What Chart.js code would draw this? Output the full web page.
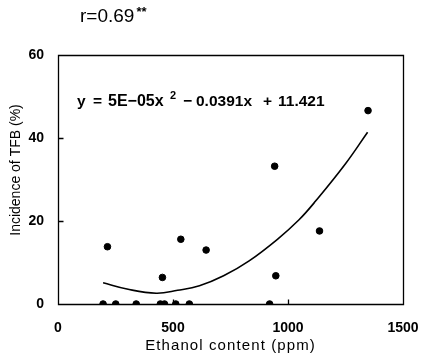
<!DOCTYPE html>
<html>
<head>
<meta charset="utf-8">
<script src="https://cdn.jsdelivr.net/npm/chart.js@4"></script>
<style>
  html, body { margin: 0; padding: 0; background: #fff; }
  #wrap { width: 422px; height: 358px; }
</style>
</head>
<body>
<div id="wrap"><canvas id="chart"></canvas></div>
<script>
// observed points: ethanol content (ppm) vs incidence of TFB (%)
const ethanol = [196, 251, 340, 445, 463, 512, 571, 920, 215, 454, 534, 644, 942, 947, 1137, 1348];
const incidence = [0, 0, 0, 0, 0, 0, 0, 0, 13.8, 6.4, 15.6, 13.0, 33.2, 6.8, 17.6, 46.6];

// trend curve
const trendX = [196, 300, 427, 520, 615, 720, 831, 954, 1048, 1120, 1250, 1346];
const trendY = [5.1, 3.6, 2.6, 3.3, 4.4, 6.8, 10.4, 15.6, 20.3, 24.8, 33.8, 41.4];

const xTicks = [0, 500, 1000, 1500];
const yTicks = [0, 20, 40, 60];

const font = 'Liberation Sans, Arial, sans-serif';

const framePlugin = {
  id: 'frame',
  afterDraw(chart) {
    const ctx = chart.ctx;
    const a = chart.chartArea;
    const xs = chart.scales.x, ys = chart.scales.y;
    const l = Math.round(a.left) + 0.5, r = Math.round(a.right) + 0.5;
    const t = Math.round(a.top) + 0.5, b = Math.round(a.bottom) + 0.5;
    ctx.save();
    ctx.globalAlpha = 1;
    ctx.setLineDash([]);
    ctx.strokeStyle = '#000000';
    ctx.lineWidth = 1.3;
    ctx.beginPath();
    ctx.moveTo(l, t);
    ctx.lineTo(r, t);
    ctx.lineTo(r, b);
    ctx.lineTo(l, b);
    ctx.closePath();
    // inner tick marks
    [500, 1000].forEach(v => {
      const px = Math.round(xs.getPixelForValue(v)) + 0.5;
      ctx.moveTo(px, b);
      ctx.lineTo(px, b - 5);
    });
    [20, 40].forEach(v => {
      const py = Math.round(ys.getPixelForValue(v)) + 0.5;
      ctx.moveTo(l, py);
      ctx.lineTo(l + 5, py);
    });
    ctx.stroke();

    ctx.fillStyle = '#000';
    ctx.textBaseline = 'alphabetic';
    ctx.textAlign = 'left';

    // correlation text
    ctx.font = '19px ' + font;
    ctx.fillText('r=0.69', 80, 22);
    const w = ctx.measureText('r=0.69').width;
    ctx.font = 'bold 13px ' + font;
    ctx.fillText('**', 80 + w + 2, 16);

    // equation, piece by piece
    const base = 106;
    ctx.font = 'bold 15.5px ' + font;
    ctx.fillText('y', 77, base);
    ctx.fillText('=', 93, base);
    ctx.font = 'bold 16px ' + font;
    ctx.fillText('5E\u221205x', 108, base);
    ctx.font = 'bold 11px ' + font;
    ctx.fillText('2', 170, base - 7);
    ctx.font = 'bold 15.5px ' + font;
    ctx.fillText('\u2212', 183, base);
    ctx.fillText('0.0391x', 196, base);
    ctx.fillText('+', 263, base);
    ctx.fillText('11.421', 278, base);

    // axis titles
    ctx.font = '15px ' + font;
    ctx.letterSpacing = '1.1px';
    ctx.textAlign = 'center';
    ctx.textBaseline = 'middle';
    ctx.fillText('Ethanol content (ppm)', (a.left + a.right) / 2, 346);
    ctx.letterSpacing = '0px';
    ctx.font = '14px ' + font;
    ctx.translate(16, 170);
    ctx.rotate(-Math.PI / 2);
    ctx.fillText('Incidence of TFB (%)', 0, 0);
    ctx.restore();
  }
};

new Chart(document.getElementById('chart'), {
  type: 'scatter',
  data: {
    datasets: [
      {
        label: 'observed',
        data: ethanol.map((v, i) => ({ x: v, y: incidence[i] })),
        backgroundColor: '#000',
        borderColor: '#000',
        pointRadius: 3.3,
        pointHoverRadius: 3.3,
        showLine: false
      },
      {
        label: 'trend',
        data: trendX.map((v, i) => ({ x: v, y: trendY[i] })),
        borderColor: '#000',
        borderWidth: 1.6,
        pointRadius: 0,
        showLine: true,
        tension: 0.4,
        fill: false
      }
    ]
  },
  options: {
    responsive: true,
    maintainAspectRatio: false,
    animation: false,
    layout: { padding: { top: 55, right: 19, left: 0, bottom: 0 } },
    plugins: { legend: { display: false }, tooltip: { enabled: false } },
    scales: {
      x: {
        type: 'linear',
        min: 0, max: 1500,
        afterBuildTicks: s => { s.ticks = xTicks.map(v => ({ value: v })); },
        grid: { display: false, drawTicks: false },
        border: { display: false },
        ticks: { color: '#000', font: { family: font, size: 14, weight: 'bold' }, padding: 16,
                 maxRotation: 0, callback: v => String(v) },
        afterFit: s => { s.height = 54; s.paddingLeft = 0; s.paddingRight = 0; }
      },
      y: {
        type: 'linear',
        min: 0, max: 60,
        afterBuildTicks: s => { s.ticks = yTicks.map(v => ({ value: v })); },
        grid: { display: false, drawTicks: false },
        border: { display: false },
        ticks: { color: '#000', font: { family: font, size: 14, weight: 'bold' }, padding: 14 },
        afterFit: s => { s.width = 58; s.paddingTop = 0; s.paddingBottom = 0; }
      }
    }
  },
  plugins: [framePlugin]
});
</script>
</body>
</html>
